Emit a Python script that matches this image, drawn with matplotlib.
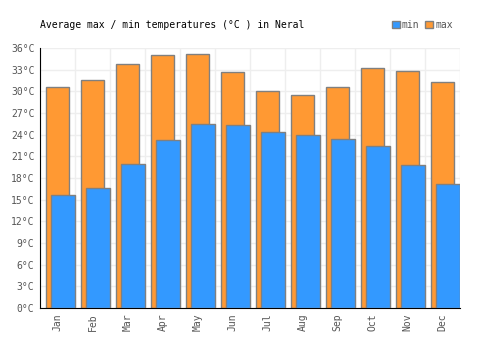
import matplotlib
matplotlib.use("Agg")
import matplotlib.pyplot as plt
from matplotlib.patches import Patch

months = ["Jan", "Feb", "Mar", "Apr", "May", "Jun",
          "Jul", "Aug", "Sep", "Oct", "Nov", "Dec"]
t_max = [30.6, 31.6, 33.8, 35.0, 35.2, 32.7, 30.0, 29.5, 30.6, 33.2, 32.8, 31.3]
t_min = [15.6, 16.6, 19.9, 23.3, 25.5, 25.3, 24.4, 24.0, 23.4, 22.4, 19.8, 17.2]
y_ticks = list(range(0, 37, 3))

orange = "#ff9933"
blue = "#3399ff"
edge = "#808080"
txt = "#555555"

plt.rcParams['font.family'] = ['DejaVu Sans Mono']

fig = plt.figure(figsize=(5, 3.5), dpi=100)
ax = fig.add_axes([0.08, 0.12, 0.84, 0.7429])

idx = list(range(len(months)))
ax.bar([i + 0.16 for i in idx], t_max, width=0.68, align='edge',
       color=orange, edgecolor=edge, linewidth=1, zorder=2)
ax.bar([i + 0.31 for i in idx], t_min, width=0.69, align='edge',
       color=blue, edgecolor=edge, linewidth=1, zorder=3)

ax.set_xlim(0, 12)
ax.set_ylim(0, 36)
ax.set_xticks([i + 0.5 for i in idx])
ax.set_xticklabels(months, rotation=90, color=txt, fontsize=7)
ax.set_xticks(range(0, 13), minor=True)
ax.set_yticks(y_ticks)
ax.set_yticklabels([f"{v}°C" for v in y_ticks], color=txt, fontsize=7)
ax.tick_params(axis='both', which='both', length=0, pad=4)
ax.grid(True, which='minor', axis='x', color='#eeeeee', linewidth=1, zorder=0)
ax.grid(True, which='major', axis='y', color='#eeeeee', linewidth=1, zorder=0)
ax.set_axisbelow(True)

for s in ['top', 'right']:
    ax.spines[s].set_visible(False)
ax.spines['left'].set_color('black')
ax.spines['bottom'].set_color('black')

fig.text(0.08, 0.929, "Average max / min temperatures (°C ) in Neral",
         fontsize=7, color='black', va='center', ha='left')

handles = [Patch(facecolor=blue, edgecolor=edge, label='min'),
           Patch(facecolor=orange, edgecolor=edge, label='max')]
leg = fig.legend(handles=handles, loc='center right', bbox_to_anchor=(0.915, 0.929),
                 ncol=2, frameon=False, fontsize=7, handlelength=0.8,
                 handleheight=0.8, handletextpad=0.2, columnspacing=0.6,
                 borderpad=0)
for t in leg.get_texts():
    t.set_color(txt)

fig.savefig("out.png", dpi=100)
